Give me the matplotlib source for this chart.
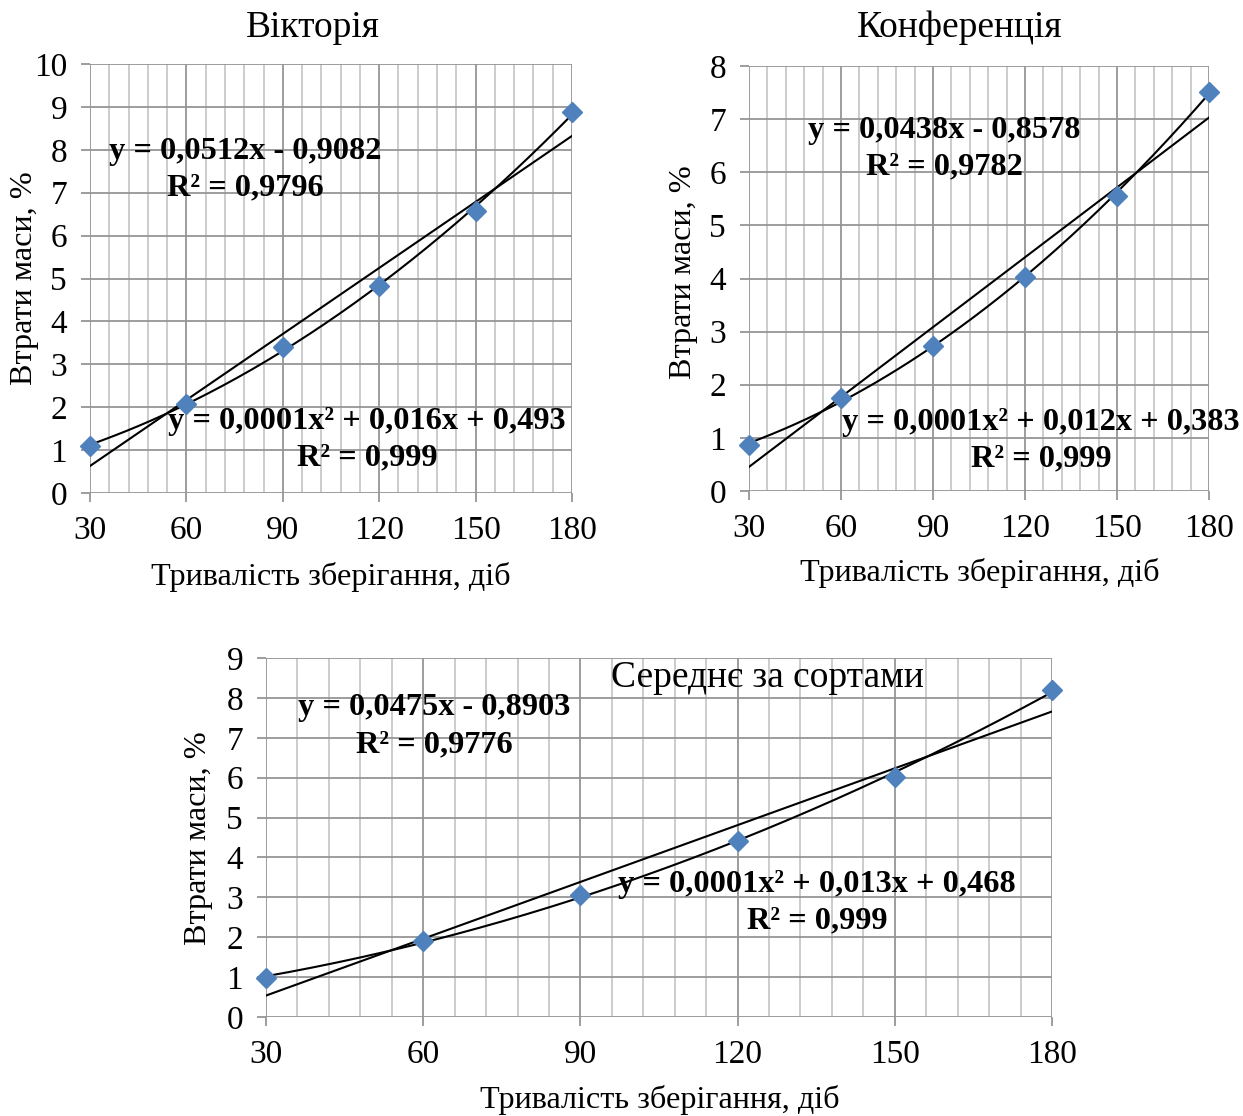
import numpy as np
import matplotlib
matplotlib.use("Agg")
import matplotlib.pyplot as plt
from matplotlib.ticker import MultipleLocator

plt.rcParams['font.family'] = ['Liberation Serif', 'DejaVu Serif']

# Storage duration, days
days = [30, 60, 90, 120, 150, 180]

# Mass loss, %
loss_viktoriia = [1.10, 2.07, 3.40, 4.83, 6.58, 8.88]
loss_konferentsiia = [0.86, 1.75, 2.73, 4.03, 5.56, 7.52]
loss_average = [0.98, 1.91, 3.05, 4.42, 6.02, 8.21]

titles = ["Вікторія", "Конференція", "Середнє за сортами"]
xlabel = "Тривалість зберігання, діб"
ylabel = "Втрати маси, %"

lin_labels = ["y = 0,0512x - 0,9082\nR² = 0,9796",
              "y = 0,0438x - 0,8578\nR² = 0,9782",
              "y = 0,0475x - 0,8903\nR² = 0,9776"]
poly_labels = ["y = 0,0001x² + 0,016x + 0,493\nR² = 0,999",
               "y = 0,0001x² + 0,012x + 0,383\nR² = 0,999",
               "y = 0,0001x² + 0,013x + 0,468\nR² = 0,999"]

W, H = 1243, 1116
fig = plt.figure(figsize=(W / 100, H / 100), dpi=100)


def px_axes(left, top, right, bottom):
    return fig.add_axes([left / W, 1 - bottom / H, (right - left) / W, (bottom - top) / H])


panels = [
    dict(box=(90, 64, 572, 493), ymax=10, data=loss_viktoriia,
         title_pos=(0.463, 1.084),
         xl=(0.5, -0.196), yl=(-0.135, 0.501),
         lin_pos=(78.2, 7.53), poly_pos=(116.2, 1.24)),
    dict(box=(749, 66, 1209, 491), ymax=8, data=loss_konferentsiia,
         title_pos=(0.458, 1.089),
         xl=(0.501, -0.193), yl=(-0.143, 0.515),
         lin_pos=(93.8, 6.44), poly_pos=(125.3, 0.955)),
    dict(box=(266, 658, 1052, 1017), ymax=9, data=loss_average,
         title_pos=(0.638, 0.944),
         xl=(0.501, -0.231), yl=(-0.0865, 0.499),
         lin_pos=(62.1, 7.29), poly_pos=(135.2, 2.86)),
]

TICK_FS = 24
EQ_FS = 23.3
TITLE_FS = 27
LABEL_FS = 23.2
xs = np.linspace(days[0], days[-1], 200)

for i, p in enumerate(panels):
    ax = px_axes(*p["box"])
    ax.set_xlim(days[0], days[-1])
    ax.set_ylim(0, p["ymax"])
    for s in ax.spines.values():
        s.set_visible(False)
    ax.set_axisbelow(True)

    ax.xaxis.set_major_locator(MultipleLocator(30))
    ax.xaxis.set_minor_locator(MultipleLocator(6))
    ax.yaxis.set_major_locator(MultipleLocator(1))
    ax.grid(which='major', axis='x', color='#959595', lw=1.3)
    ax.grid(which='minor', axis='x', color='#c4c4c4', lw=1.2)
    ax.grid(which='major', axis='y', color='#959595', lw=1.3)
    ax.tick_params(which='major', direction='out', length=6.5, width=1.3,
                   color='#959595', labelsize=TICK_FS, pad=10)
    ax.tick_params(which='minor', length=0)

    y = np.array(p["data"])
    lin = np.polyfit(days, y, 1)
    quad = np.polyfit(days, y, 2)
    ax.plot(xs, np.polyval(lin, xs), color='black', lw=1.5, zorder=3)
    ax.plot(xs, np.polyval(quad, xs), color='black', lw=1.5, zorder=3)
    ax.plot(days, y, linestyle='none', marker='D', ms=10, color='#4f81bd',
            mec='#4f81bd', zorder=4, clip_on=False)

    ax.text(*p["lin_pos"], lin_labels[i], ha='center', va='center',
            fontsize=EQ_FS, fontweight='bold', linespacing=1.34, zorder=5)
    ax.text(*p["poly_pos"], poly_labels[i], ha='center', va='center',
            fontsize=EQ_FS, fontweight='bold', linespacing=1.34, zorder=5)

    ax.text(*p["title_pos"], titles[i], transform=ax.transAxes,
            ha='center', va='center', fontsize=TITLE_FS, zorder=5)

    ax.set_xlabel(xlabel, fontsize=LABEL_FS)
    ax.xaxis.set_label_coords(*p["xl"])
    ax.xaxis.label.set_va('center')
    ax.set_ylabel(ylabel, fontsize=LABEL_FS)
    ax.yaxis.set_label_coords(*p["yl"])
    ax.yaxis.label.set_va('center')

fig.savefig("out.png", dpi=100)
